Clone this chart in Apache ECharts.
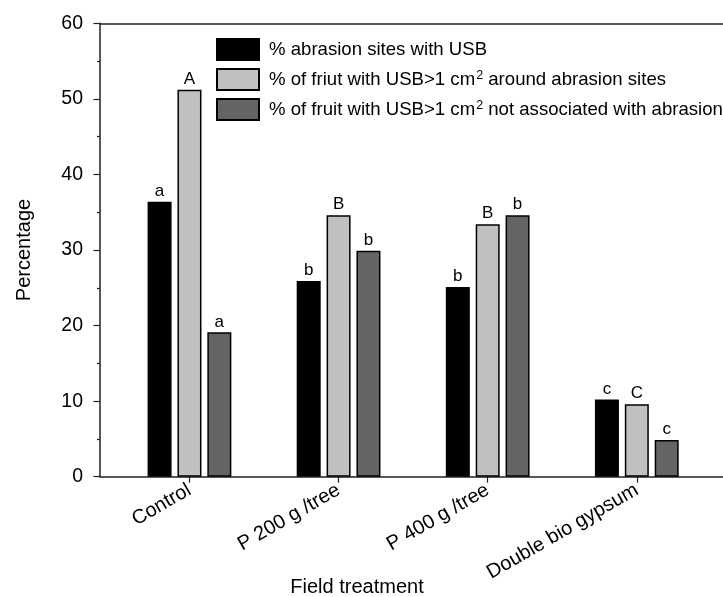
<!DOCTYPE html>
<html>
<head>
<meta charset="utf-8">
<script src="https://cdn.jsdelivr.net/npm/echarts@6/dist/echarts.min.js"></script>
<style>html,body{margin:0;padding:0;background:#fff}#c{width:723px;height:597px}</style>
</head>
<body>
<div id="c"></div>
<script>
const categories = ['Control', 'P 200 g /tree', 'P 400 g /tree', 'Double bio gypsum'];
const categoryPos = [1, 2, 3, 4];
const seriesNames = [
  '% abrasion sites with USB',
  '% of friut with USB>1 cm2 around abrasion sites',
  '% of fruit with USB>1 cm2 not associated with abrasion'
];
const abrasionSites = [36.4, 25.9, 25.1, 10.2];
const aroundAbrasion = [51.2, 34.6, 33.4, 9.6];
const notAssociated = [19.1, 29.9, 34.6, 4.85];
const lettersAbrasion = ['a', 'b', 'b', 'c'];
const lettersAround = ['A', 'B', 'B', 'C'];
const lettersNot = ['a', 'b', 'b', 'c'];
const yTicks = [0, 10, 20, 30, 40, 50, 60];

const FONT = 'Liberation Sans, Arial, sans-serif';
const colors = ['#000000', '#c0c0c0', '#646464'];
const valuesList = [abrasionSites, aroundAbrasion, notAssociated];
const lettersList = [lettersAbrasion, lettersAround, lettersNot];

const chart = echarts.init(document.getElementById('c'), null, {renderer: 'canvas'});

const series = seriesNames.map((name, si) => ({
  name: name,
  type: 'bar',
  xAxisIndex: 0,
  barWidth: 24,
  barGap: '24.5%',
  itemStyle: {color: colors[si], borderColor: '#000', borderWidth: 1.5},
  label: {
    show: true, position: 'top', distance: 2,
    fontFamily: FONT, fontSize: 17, color: '#000',
    formatter: p => lettersList[si][p.dataIndex]
  },
  data: categoryPos.map((x, i) => [x, valuesList[si][i]])
}));

chart.setOption({
  animation: false,
  backgroundColor: '#fff',
  textStyle: {fontFamily: FONT},
  grid: {left: 100, right: 0, top: 23.3, bottom: 120.3, containLabel: false, outerBoundsMode: 'none'},
  legend: {
    orient: 'vertical', left: 216, top: 38, padding: 0,
    itemWidth: 42, itemHeight: 21, itemGap: 7,
    icon: 'rect',
    selectedMode: false,
    data: seriesNames,
    textStyle: {
      fontFamily: FONT, fontSize: 18.6, color: '#000', padding: [0, 0, 0, 5], lineHeight: 21,
      rich: {
        n: {fontFamily: FONT, fontSize: 18.6, color: '#000', lineHeight: 21},
        sup: {fontFamily: FONT, fontSize: 12.5, color: '#000', verticalAlign: 'top', lineHeight: 12, padding: [0, 0, 0, 1]}
      }
    },
    formatter: name => {
      const parts = name.split('cm2');
      if (parts.length === 1) return '{n|' + name + '}';
      return '{n|' + parts[0] + 'cm}{sup|2}{n|' + parts[1] + '}';
    }
  },
  xAxis: [{
    type: 'value', min: 0.4, max: 4.578, position: 'bottom',
    name: 'Field treatment', nameLocation: 'middle', nameGap: 101, nameMoveOverlap: false,
    nameTextStyle: {fontFamily: FONT, fontSize: 20, color: '#000', padding: [0, 109, 0, 0]},
    splitLine: {show: false},
    axisLine: {show: true, onZero: false, lineStyle: {color: '#222', width: 1.5}},
    axisTick: {show: true, length: 6, customValues: categoryPos, lineStyle: {color: '#222', width: 1.2}},
    axisLabel: {
      customValues: categoryPos, rotate: 30, margin: 12,
      fontFamily: FONT, fontSize: 20, color: '#000',
      formatter: v => categories[Math.round(v) - 1]
    }
  }, {
    type: 'value', min: 0.4, max: 4.578, position: 'top',
    splitLine: {show: false},
    axisLine: {show: true, onZero: false, lineStyle: {color: '#222', width: 1.5}},
    axisTick: {show: false}, axisLabel: {show: false}
  }],
  yAxis: {
    type: 'value', min: 0, max: 60, interval: 10,
    name: 'Percentage', nameLocation: 'middle', nameGap: 66, nameRotate: 90, nameMoveOverlap: false,
    nameTextStyle: {fontFamily: FONT, fontSize: 20, color: '#000'},
    splitLine: {show: false},
    axisLine: {show: true, lineStyle: {color: '#222', width: 1.5}},
    axisTick: {show: true, length: 6.5, lineStyle: {color: '#222', width: 1.2}},
    minorTick: {show: true, splitNumber: 2, length: 3, lineStyle: {color: '#222', width: 1.2}},
    minorSplitLine: {show: false},
    axisLabel: {fontFamily: FONT, fontSize: 19.5, color: '#000', margin: 17,
      formatter: v => yTicks.includes(v) ? String(v) : ''}
  },
  series: series
});
</script>
</body>
</html>
